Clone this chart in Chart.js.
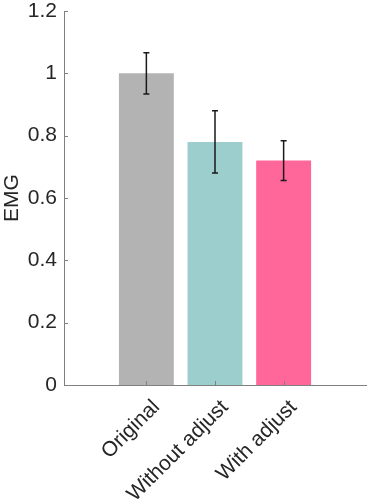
<!DOCTYPE html>
<html>
<head>
<meta charset="utf-8">
<script src="https://cdn.jsdelivr.net/npm/chart.js@4"></script>
<style>
  body { margin: 0; background: #fff; }
  #wrap { width: 374px; height: 501px; position: relative; }
</style>
</head>
<body>
<div id="wrap"><canvas id="grafico"></canvas></div>
<script>
var categorias = ["Original", "Without adjust", "With adjust"];
var posicoes   = [1, 2, 3];
var valores    = [1.0, 0.78, 0.72];
var erros      = [0.066, 0.10, 0.064];
var cores      = ["#b3b3b3", "#9bcecd", "#ff6699"];
var ticksY     = [0, 0.2, 0.4, 0.6, 0.8, 1, 1.2];

var fonte = "'Liberation Sans', Arial, sans-serif";
var corTexto = "#262626";
var corEixo = "#808080";

// barras de erro + ticks para dentro (estilo matlab)
var pluginExtras = {
    id: "extras",
    afterDatasetsDraw: function (chart) {
        var ctx = chart.ctx;
        var x = chart.scales.x, y = chart.scales.y;
        var area = chart.chartArea;
        ctx.save();

        ctx.strokeStyle = corEixo;
        ctx.lineWidth = 1;
        ticksY.forEach(function (v) {
            var py = Math.round(y.getPixelForValue(v)) + 0.5;
            ctx.beginPath();
            ctx.moveTo(area.left, py);
            ctx.lineTo(area.left + 4, py);
            ctx.stroke();
        });
        posicoes.forEach(function (v) {
            var px = Math.round(x.getPixelForValue(v)) + 0.5;
            ctx.beginPath();
            ctx.moveTo(px, area.bottom);
            ctx.lineTo(px, area.bottom - 4);
            ctx.stroke();
        });

        ctx.strokeStyle = "#1a1a1a";
        ctx.lineWidth = 1.5;
        posicoes.forEach(function (p, i) {
            var px = x.getPixelForValue(p);
            var top = y.getPixelForValue(valores[i] + erros[i]);
            var bot = y.getPixelForValue(valores[i] - erros[i]);
            ctx.beginPath();
            ctx.moveTo(px, top); ctx.lineTo(px, bot);
            ctx.moveTo(px - 3, top); ctx.lineTo(px + 3, top);
            ctx.moveTo(px - 3, bot); ctx.lineTo(px + 3, bot);
            ctx.stroke();
        });
        ctx.restore();
    }
};

new Chart(document.getElementById("grafico"), {
    type: "bar",
    data: {
        datasets: [{
            data: posicoes.map(function (p, i) { return { x: p, y: valores[i] }; }),
            backgroundColor: cores,
            borderWidth: 0,
            barPercentage: 0.8,
            categoryPercentage: 1
        }]
    },
    options: {
        responsive: true,
        maintainAspectRatio: false,
        animation: false,
        layout: { padding: { top: 11, right: 8, left: 0, bottom: 0 } },
        plugins: { legend: { display: false }, tooltip: { enabled: false } },
        scales: {
            x: {
                type: "linear",
                min: -0.2,
                max: 4.2,
                offset: false,
                afterBuildTicks: function (scale) {
                    scale.ticks = posicoes.map(function (v) { return { value: v }; });
                },
                afterFit: function (scale) {
                    scale.height = 116;
                    scale.paddingLeft = 0;
                    scale.paddingRight = 0;
                },
                grid: { display: false, drawTicks: false },
                border: { display: true, color: corEixo, width: 1 },
                ticks: {
                    autoSkip: false,
                    minRotation: 45,
                    maxRotation: 45,
                    padding: 10,
                    labelOffset: 10,
                    color: corTexto,
                    font: { family: fonte, size: 21 },
                    callback: function (v) {
                        var i = posicoes.indexOf(v);
                        return i >= 0 ? categorias[i] : "";
                    }
                }
            },
            y: {
                min: 0,
                max: 1.2,
                afterBuildTicks: function (scale) {
                    scale.ticks = ticksY.map(function (v) { return { value: v }; });
                },
                afterFit: function (scale) {
                    scale.width = 64;
                    scale.paddingTop = 0;
                    scale.paddingBottom = 0;
                },
                grid: { display: false, drawTicks: false },
                border: { display: true, color: corEixo, width: 1 },
                ticks: {
                    padding: 7,
                    color: corTexto,
                    font: { family: fonte, size: 21 },
                    callback: function (v) { return String(Math.round(v * 10) / 10); }
                },
                title: {
                    display: true,
                    text: "EMG",
                    color: corTexto,
                    font: { family: fonte, size: 21 },
                    padding: 0
                }
            }
        }
    },
    plugins: [pluginExtras]
});
</script>
</body>
</html>
